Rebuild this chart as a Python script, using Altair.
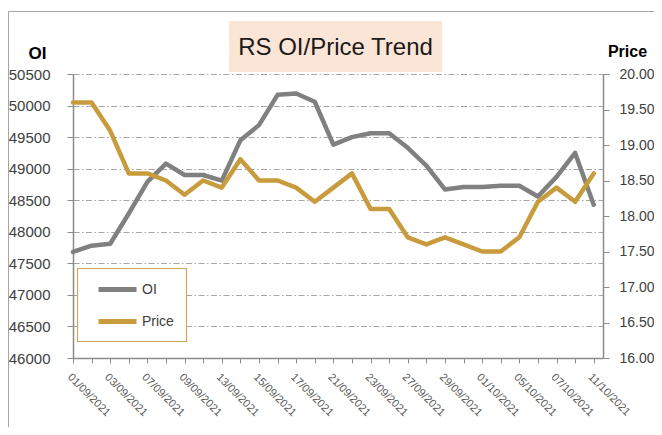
import json
import altair as alt
import pandas as pd

dates = ["01/09/2021", "02/09/2021", "03/09/2021", "06/09/2021", "07/09/2021",
         "08/09/2021", "09/09/2021", "10/09/2021", "13/09/2021", "14/09/2021",
         "15/09/2021", "16/09/2021", "17/09/2021", "20/09/2021", "21/09/2021",
         "22/09/2021", "23/09/2021", "24/09/2021", "27/09/2021", "28/09/2021",
         "29/09/2021", "30/09/2021", "01/10/2021", "04/10/2021", "05/10/2021",
         "06/10/2021", "07/10/2021", "08/10/2021", "11/10/2021"]
oi = [47680, 47780, 47810, 48290, 48790, 49080, 48900, 48900, 48810, 49450,
      49690, 50170, 50190, 50060, 49380, 49500, 49560, 49560, 49330, 49050,
      48670, 48710, 48710, 48730, 48730, 48560, 48870, 49250, 48430]
price = [19.6, 19.6, 19.2, 18.6, 18.6, 18.5, 18.3, 18.5, 18.4, 18.8,
         18.5, 18.5, 18.4, 18.2, 18.4, 18.6, 18.1, 18.1, 17.7, 17.6,
         17.7, 17.6, 17.5, 17.5, 17.7, 18.2, 18.4, 18.2, 18.6]
oi_ticks = [46000, 46500, 47000, 47500, 48000, 48500, 49000, 49500, 50000, 50500]
price_ticks = [16.0, 16.5, 17.0, 17.5, 18.0, 18.5, 19.0, 19.5, 20.0]
series_names = ["OI", "Price"]
series_colors = ["#808080", "#C89B3C"]
title_text = "RS OI/Price Trend"

FONT = "Liberation Sans"
df = pd.DataFrame({"idx": list(range(len(dates))), "date": dates, "OI": oi, "Price": price})

label_expr = "datum.value % 2 == 0 ? " + json.dumps(dates) + "[datum.value] : ''"

x_enc = alt.X(
    "idx:Q",
    scale=alt.Scale(domain=[0, 28.5], nice=False, zero=False),
    axis=alt.Axis(values=list(range(len(dates))), labelExpr=label_expr, labelAngle=45,
                  labelAlign="left", labelBaseline="top", labelFontSize=11,
                  labelColor="#595959", labelFont=FONT, tickSize=5, tickColor="#8C8C8C",
                  domainColor="#8C8C8C", domainWidth=1.5, grid=False, title=None,
                  labelPadding=8, labelOverlap=False, labelFlush=False),
)

color_scale = alt.Scale(domain=series_names, range=series_colors)
legend = alt.Legend(
    orient="none", legendX=4, legendY=194, title=None, padding=0,
    symbolType="stroke", symbolSize=1444,
    symbolStrokeWidth=5, symbolOffset=19, labelOffset=3, labelFontSize=14,
    labelFont=FONT, labelColor="#404040", rowPadding=-2,
)
color_enc = alt.Color("series:N", scale=color_scale, legend=legend)

oi_line = alt.Chart(df).transform_calculate(series="'OI'").mark_line(
    strokeWidth=4.5, strokeJoin="round", strokeCap="round").encode(
    x=x_enc,
    y=alt.Y("OI:Q", scale=alt.Scale(domain=[46000, 50500], nice=False, zero=False),
            axis=alt.Axis(values=oi_ticks, format="d", grid=True, gridColor="#A6A6A6",
                          gridDash=[6, 2.5, 1.5, 2.5], gridWidth=1, tickSize=6,
                          tickColor="#8C8C8C", domainColor="#8C8C8C", domainWidth=1.5,
                          labelPadding=17, labelFontSize=15, labelColor="#404040",
                          labelFont=FONT, title="OI", titleAngle=0, titleX=-36, titleY=-21,
                          titleAlign="center", titleBaseline="middle", titleFontSize=17,
                          titleFontWeight="bold", titleFont=FONT, titleColor="black")),
    color=color_enc,
)

price_line = alt.Chart(df).transform_calculate(series="'Price'").mark_line(
    strokeWidth=4.5, strokeJoin="round", strokeCap="round").encode(
    x=x_enc,
    y=alt.Y("Price:Q", scale=alt.Scale(domain=[16, 20], nice=False, zero=False),
            axis=alt.Axis(orient="right", values=price_ticks, format=".2f", grid=False,
                          tickSize=6, tickColor="#8C8C8C", domainColor="#8C8C8C",
                          domainWidth=1.5, labelPadding=10, labelFontSize=14,
                          labelColor="#404040", labelFont=FONT, title="Price", titleAngle=0,
                          titleX=24, titleY=-23, titleAlign="center", titleBaseline="middle",
                          titleFontSize=16, titleFontWeight="bold", titleFont=FONT,
                          titleColor="black")),
    color=color_enc,
)

title_df = pd.DataFrame({"t": [title_text]})
title_box = alt.Chart(title_df).mark_rect(fill="#FBE5D6").encode(
    x=alt.value(156), x2=alt.value(369), y=alt.value(-53), y2=alt.value(-2))
title_txt = alt.Chart(title_df).mark_text(
    fontSize=24, font=FONT, color="#1A1A1A", align="center", baseline="middle").encode(
    text="t:N", x=alt.value(262.5), y=alt.value(-26))
border = alt.Chart(title_df).mark_rect(fill=None, stroke="#A6A6A6", strokeWidth=1).encode(
    x=alt.value(-64.5), x2=alt.value(800), y=alt.value(-62.5), y2=alt.value(800))
legend_box = alt.Chart(title_df).mark_rect(fill="white", stroke="#CDA957", strokeWidth=1.2).encode(
    x=alt.value(4.5), x2=alt.value(113.5), y=alt.value(194.5), y2=alt.value(267.5))

lines = alt.layer(oi_line, price_line).resolve_scale(y="independent", color="shared")

chart = alt.layer(border, title_box, title_txt, legend_box, lines).resolve_scale(
    y="independent", color="shared"
).properties(
    width=530, height=284,
    autosize=alt.AutoSizeParams(type="none"),
    padding={"left": 65, "top": 66, "right": 51, "bottom": 69},
    background="white",
).configure_view(stroke=None)

chart.save("out.html", embed_options={"renderer": "svg", "actions": False})
